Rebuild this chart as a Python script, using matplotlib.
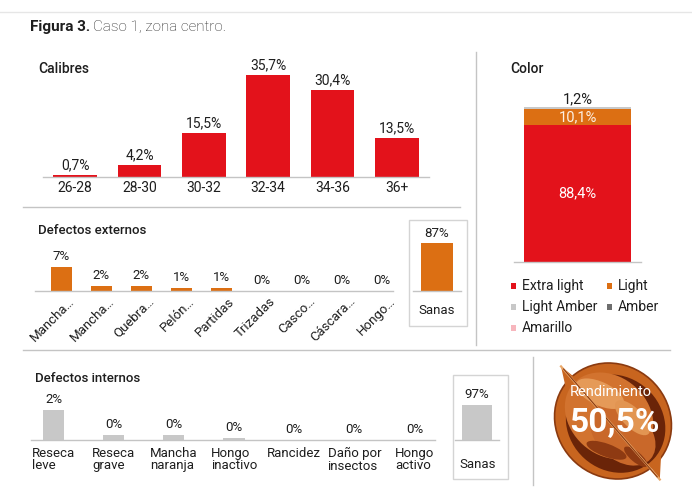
import numpy as np
import matplotlib.pyplot as plt
from matplotlib.patches import Rectangle, Ellipse, Polygon
from matplotlib.lines import Line2D

plt.rcParams['font.family'] = ['Roboto', 'DejaVu Sans']

# ---- data ----
cal_cats = ['26-28', '28-30', '30-32', '32-34', '34-36', '36+']
cal_vals = [0.7, 4.2, 15.5, 35.7, 30.4, 13.5]

ext_cats = ['Mancha…', 'Mancha…', 'Quebra…', 'Pelón…', 'Partidas', 'Trizadas',
            'Casco…', 'Cáscara…', 'Hongo…']
ext_vals = [7.0, 1.5, 1.5, 0.9, 0.9, 0.0, 0.0, 0.0, 0.0]
ext_labels = ['7%', '2%', '2%', '1%', '1%', '0%', '0%', '0%', '0%']
ext_sanas = 87

int_cats = ['Reseca\nleve', 'Reseca\ngrave', 'Mancha\nnaranja', 'Hongo\ninactivo',
            'Rancidez', 'Daño por\ninsectos', 'Hongo\nactivo']
int_vals = [2.0, 0.33, 0.33, 0.15, 0.0, 0.0, 0.0]
int_labels = ['2%', '0%', '0%', '0%', '0%', '0%', '0%']
int_sanas = 97

color_cats = ['Extra light', 'Light', 'Light Amber', 'Amber', 'Amarillo']
color_vals = [88.4, 10.1, 1.2, 0.0, 0.0]
color_cols = ['#e3121b', '#dc6f13', '#c8c8c8', '#6e6e6e', '#f7b6bd']

rendimiento = '50,5%'

RED = '#e3121b'
ORANGE = '#dc6f13'
GREY = '#c8c8c8'
LINE = '#c4c4c4'
TXT = '#1e1e1e'

W, H = 692, 500
fig = plt.figure(figsize=(W / 100, H / 100), dpi=100)


def add_ax(x0, y0, x1, y1):
    ax = fig.add_axes([x0 / W, 1 - y1 / H, (x1 - x0) / W, (y1 - y0) / H])
    ax.axis('off')
    return ax


def hline(x0, x1, y, c=LINE, lw=1.0):
    fig.add_artist(Line2D([x0 / W, x1 / W], [1 - y / H, 1 - y / H], color=c, lw=lw))


def vline(x, y0, y1, c=LINE, lw=1.0):
    fig.add_artist(Line2D([x / W, x / W], [1 - y0 / H, 1 - y1 / H], color=c, lw=lw))


def ftext(x, y, s, **kw):
    return fig.text(x / W, 1 - y / H, s, **kw)


def box(x0, y0, x1, y1):
    fig.add_artist(Rectangle((x0 / W, 1 - y1 / H), (x1 - x0) / W, (y1 - y0) / H,
                             transform=fig.transFigure, fc='none', ec='#d4d4d4', lw=1.0))


# frame lines
hline(0, 692, 12, c='#e6e6e6')
hline(23, 460, 207)
vline(476, 52, 345)
hline(23, 670, 350)
vline(533, 357, 485)

# title
t1 = ftext(30, 31, 'Figura 3.', fontsize=11, fontweight='bold', color=TXT, va='baseline')
fig.canvas.draw()
bb = t1.get_window_extent()
fig.text((bb.x1 + 3) / W, t1.get_position()[1], 'Caso 1, zona centro.', fontsize=11,
         fontweight='light', color='#222222', va='baseline')

# ---- Calibres ----
ftext(38, 69, 'Calibres', fontsize=10, fontweight='medium', color=TXT, va='center')
ax = add_ax(43, 177 - 40 * 2.86, 429, 177)
x = np.arange(len(cal_cats))
ax.bar(x, cal_vals, width=0.68, color=RED)
ax.set_xlim(-0.5, len(cal_cats) - 0.5)
ax.set_ylim(0, 40)
ax.axhline(0, color=LINE, lw=1.0, clip_on=False)
for i, v in enumerate(cal_vals):
    ax.annotate(f'{v:.1f}%'.replace('.', ','), (i, v), xytext=(0, 2), textcoords='offset points',
                ha='center', va='bottom', fontsize=10, color=TXT)
    ax.annotate(cal_cats[i], (i, 0), xytext=(0, -3), textcoords='offset points',
                ha='center', va='top', fontsize=10, color=TXT)

# ---- Defectos externos ----
ftext(38, 230, 'Defectos externos', fontsize=9.5, fontweight='medium', color=TXT, va='center')
ax = add_ax(35, 291 - 10 * 3.43, 393, 291)
x = np.arange(len(ext_cats))
ax.bar(x, ext_vals, width=0.52, color=ORANGE)
ax.set_xlim(-0.65, 8.27)
ax.set_ylim(0, 10)
ax.axhline(0, color=LINE, lw=1.0, clip_on=False)
for i, v in enumerate(ext_vals):
    ax.annotate(ext_labels[i], (i, v), xytext=(0, 3), textcoords='offset points',
                ha='center', va='bottom', fontsize=9.5, color=TXT)
    ax.annotate(ext_cats[i], (i, 0), xytext=(8, -6), textcoords='offset points',
                ha='right', va='center', rotation=45, rotation_mode='anchor',
                fontsize=9.5, color=TXT)

box(409, 220, 467, 326)
ax = add_ax(413, 291 - 55, 461, 291)
ax.bar([0], [ext_sanas], width=0.65, color=ORANGE)
ax.set_xlim(-0.5, 0.5)
ax.set_ylim(0, 100)
ax.axhline(0, color=LINE, lw=1.0, clip_on=False)
ax.annotate(f'{ext_sanas}%', (0, ext_sanas), xytext=(0, 2), textcoords='offset points',
            ha='center', va='bottom', fontsize=9.5, color=TXT)
ftext(437, 311, 'Sanas', fontsize=9.5, color=TXT, ha='center', va='center')

# ---- Color ----
ftext(510, 69, 'Color', fontsize=10, fontweight='medium', color=TXT, va='center')
ax = add_ax(514, 107, 641, 262)
bottom = 0
for name, v, c in zip(color_cats, color_vals, color_cols):
    ax.bar([0], [v], bottom=bottom, width=0.835, color=c)
    bottom += v
ax.set_xlim(-0.5, 0.5)
ax.set_ylim(0, 100)
ax.axhline(0, color=LINE, lw=1.0, clip_on=False)
ax.text(0, color_vals[0] / 2, f'{color_vals[0]:.1f}%'.replace('.', ','), ha='center', va='center',
        color='white', fontsize=10.5)
ax.text(0, color_vals[0] + color_vals[1] / 2, f'{color_vals[1]:.1f}%'.replace('.', ','),
        ha='center', va='center', color='#fdf0e4', fontsize=10.5)
ax.annotate(f'{color_vals[2]:.1f}%'.replace('.', ','), (0, bottom), xytext=(0, 1),
            textcoords='offset points', ha='center', va='bottom', color=TXT, fontsize=10.5)

leg_pos = [(513, 286), (609, 286), (513, 307), (609, 307), (513, 328)]
for (lx, ly), name, c in zip(leg_pos, color_cats, color_cols):
    fig.add_artist(Rectangle(((lx - 2.5) / W, 1 - (ly + 2.5) / H), 5.5 / W, 5.5 / H,
                             transform=fig.transFigure, fc=c, ec='none'))
    ftext(lx + 9, ly, name, fontsize=10, color=TXT, va='center')

# ---- Defectos internos ----
ftext(35, 378, 'Defectos internos', fontsize=9.5, fontweight='medium', color=TXT, va='center')
ax = add_ax(31, 440 - 45, 435, 440)
x = np.arange(len(int_cats))
ax.bar(x, int_vals, width=0.35, color=GREY)
ax.set_xlim(-0.374, 6.34)
ax.set_ylim(0, 3)
ax.axhline(0, color=LINE, lw=1.0, clip_on=False)
for i, v in enumerate(int_vals):
    ax.annotate(int_labels[i], (i, v), xytext=(0, 3), textcoords='offset points',
                ha='center', va='bottom', fontsize=9.5, color=TXT)
    ax.annotate(int_cats[i], (i, 0), xytext=(0, -5), textcoords='offset points',
                ha='center', va='top', multialignment='left', linespacing=0.95,
                fontsize=9.5, color=TXT)

box(453, 375, 508, 479)
ax = add_ax(455, 440 - 36, 499, 440)
ax.bar([0], [int_sanas], width=0.7, color=GREY)
ax.set_xlim(-0.5, 0.5)
ax.set_ylim(0, 100)
ax.axhline(0, color=LINE, lw=1.0, clip_on=False)
ax.annotate(f'{int_sanas}%', (0, int_sanas), xytext=(0, 3), textcoords='offset points',
            ha='center', va='bottom', fontsize=9.5, color=TXT)
ftext(478, 465, 'Sanas', fontsize=9.5, color=TXT, ha='center', va='center')

# ---- walnut ----
axw = add_ax(548, 356, 678, 486)
axw.set_xlim(-1, 1)
axw.set_ylim(-1, 1)
axw.add_patch(Ellipse((0, 0), 1.86, 1.72, angle=-42, fc='#c8651f', ec='#8a3a10', lw=1.2))
axw.add_patch(Polygon([[-0.8, 0.84], [-0.5, 0.6], [-0.72, 0.48]], closed=True, fc='#c8651f', ec='none'))
axw.add_patch(Polygon([[0.72, -0.9], [0.48, -0.58], [0.74, -0.52]], closed=True, fc='#c8651f', ec='none'))
axw.add_patch(Ellipse((0.04, -0.04), 1.6, 1.44, angle=-42, fc='#6a2408', ec='none'))
axw.add_patch(Ellipse((-0.06, 0.08), 1.48, 1.2, angle=-42, fc='#d2732f', ec='none'))
axw.add_patch(Ellipse((0.15, -0.2), 1.15, 0.8, angle=-42, fc='#c9682a', ec='none'))
axw.add_patch(Ellipse((-0.2, 0.42), 0.8, 0.36, angle=-25, fc='#e59a58', ec='none'))
axw.add_patch(Ellipse((0.3, 0.05), 0.7, 0.3, angle=-45, fc='#e29552', ec='none'))
axw.add_patch(Ellipse((-0.1, -0.45), 0.65, 0.2, angle=-20, fc='#8e3a12', ec='none'))
axw.add_patch(Ellipse((0.35, -0.55), 0.45, 0.16, angle=-40, fc='#8e3a12', ec='none'))
axw.plot([-0.8, 0.72], [0.84, -0.9], color='#eaa86a', lw=1.6)
axw.plot([-0.76, 0.68], [0.8, -0.86], color='#8a3a10', lw=0.8)
ftext(611, 392, 'Rendimiento', fontsize=10.5, color='white', ha='center', va='center')
ftext(614, 423, rendimiento, fontsize=24, color='white', ha='center', va='center',
      fontweight='bold')

fig.savefig('out.png', dpi=100)
